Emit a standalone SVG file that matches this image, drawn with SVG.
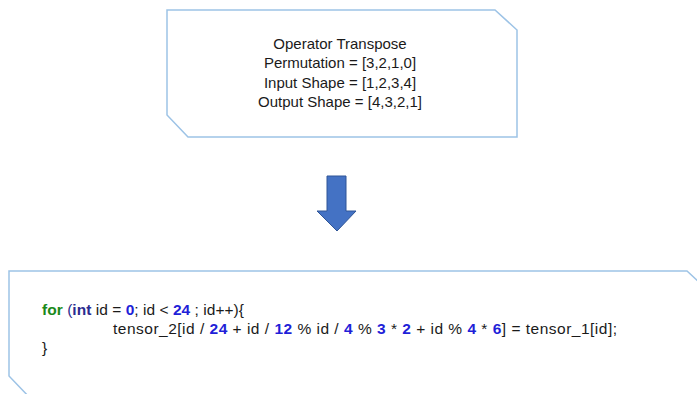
<svg xmlns="http://www.w3.org/2000/svg" width="697" height="394" viewBox="0 0 697 394">
<defs>
<style>
.box{fill:#ffffff;stroke:#9dc3e6;stroke-width:1.5}
.t{font-family:"Liberation Sans",Arial,sans-serif;font-size:15px;fill:#1a1a1a}
.c{font-family:"Liberation Sans",Arial,sans-serif;font-size:15.5px;fill:#1a1a1a}
.kw{fill:#1a8a1a;font-weight:bold}
.ty{fill:#2b2b8f;font-weight:bold}
.num{fill:#1f1fd8;font-weight:bold}
</style>
</defs>
<rect width="697" height="394" fill="#ffffff"/>
<g id="operator-node">
<polygon class="box" points="167,10 495,10 517,30 517,137 188,137 167,115"/>
<text class="t" text-anchor="middle" x="340" y="49">Operator Transpose</text>
<text class="t" text-anchor="middle" x="340" y="68">Permutation = [3,2,1,0]</text>
<text class="t" text-anchor="middle" x="340" y="88">Input Shape = [1,2,3,4]</text>
<text class="t" text-anchor="middle" x="340" y="107">Output Shape = [4,3,2,1]</text>
</g>
<g id="connectors">
<polygon points="327,176 346,176 346,211 356,211 337,231 317,211 327,211" fill="#4472c4" stroke="#2f5597" stroke-width="1"/>
</g>
<g id="code-node">
<polygon class="box" points="9,271 687,271 712,294 712,400 32,400 9,376"/>
<text class="c" x="42" y="315" textLength="202" lengthAdjust="spacing"><tspan class="kw">for</tspan> <tspan fill="#2b2b8f">(</tspan><tspan class="ty">int</tspan> id = <tspan class="num">0</tspan>; id &lt; <tspan class="num">24</tspan> ; id++){</text>
<text class="c" x="113" y="334" textLength="504" lengthAdjust="spacing">tensor_2[id / <tspan class="num">24</tspan> + id / <tspan class="num">12</tspan> % id / <tspan class="num">4</tspan> % <tspan class="num">3</tspan> * <tspan class="num">2</tspan> + id % <tspan class="num">4</tspan> * <tspan class="num">6</tspan>] = tensor_1[id];</text>
<text class="c" x="42" y="353">}</text>
</g>
</svg>
